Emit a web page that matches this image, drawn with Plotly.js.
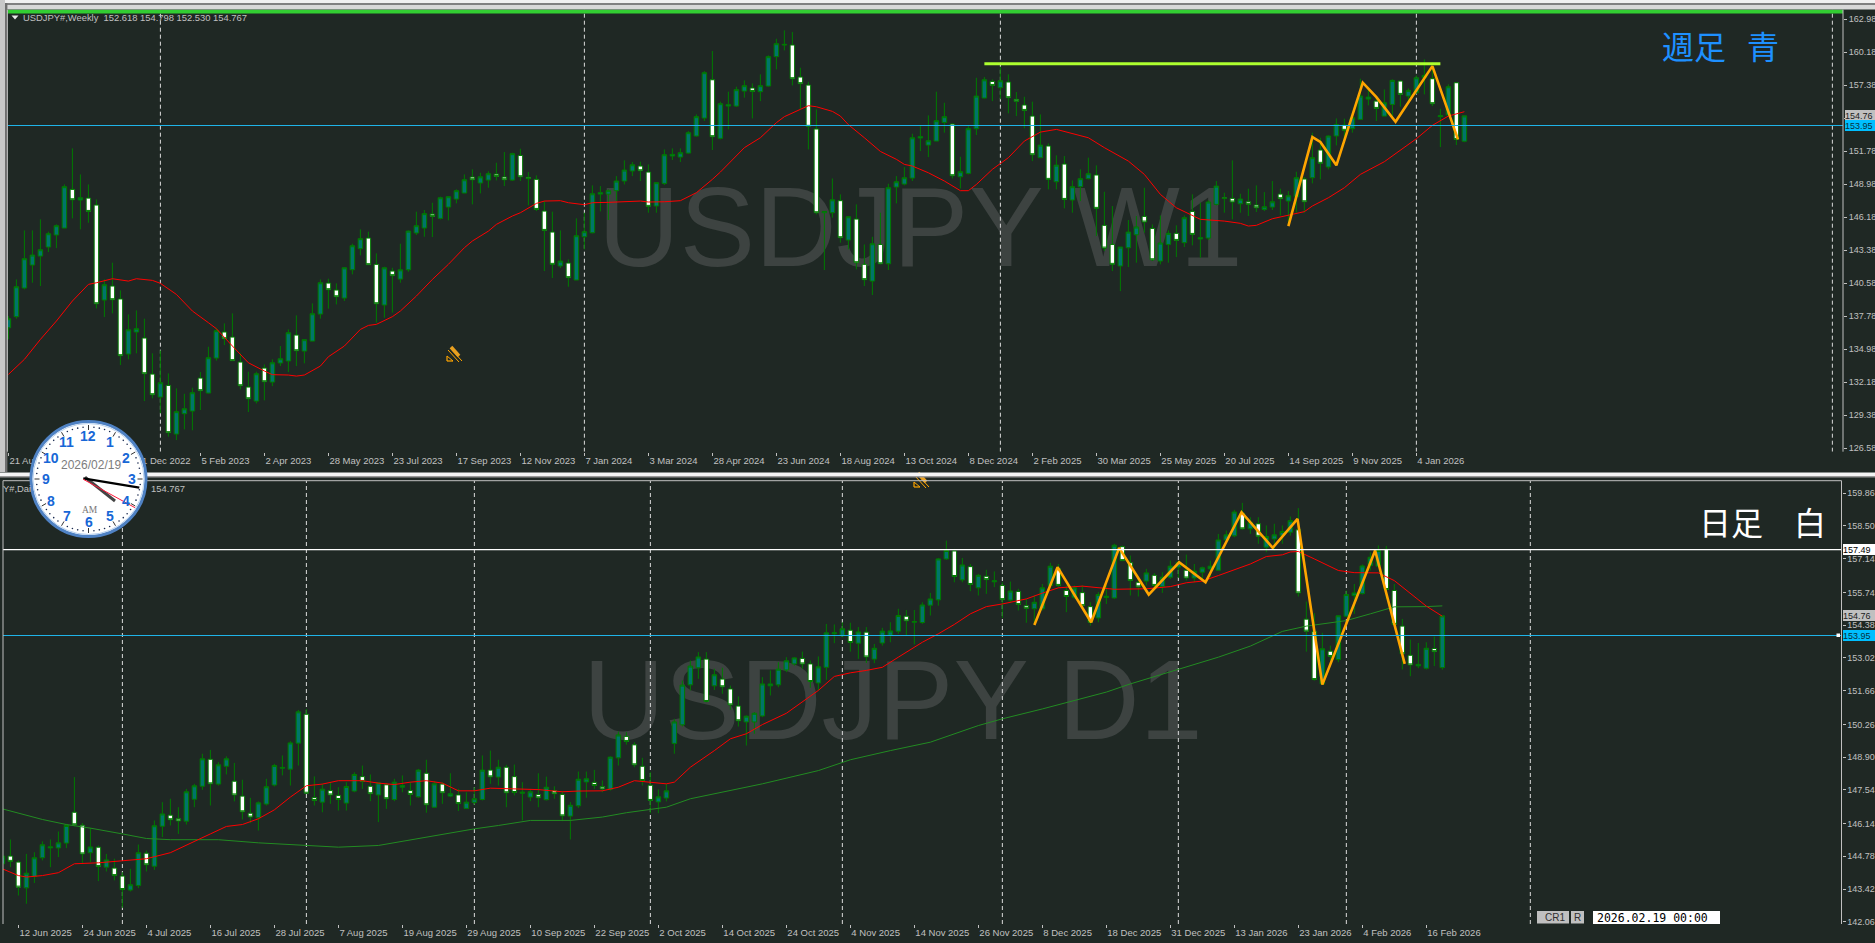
<!DOCTYPE html>
<html><head><meta charset="utf-8">
<script src="https://cdn.plot.ly/plotly-3.0.1.min.js"></script>
<style>html,body{margin:0;padding:0;background:#1f2824;overflow:hidden}#c{width:1875px;height:943px}</style>
</head><body><div id="c"></div>
<script>
// ---------- WEEKLY DATA ----------
const wHigh=[137.78,140.89,145.05,145.05,145.99,144.94,145.56,148.95,152.01,149.80,
148.95,147.68,140.89,142.31,139.96,137.92,138.26,137.56,134.62,134.87,
132.92,131.65,131.19,131.70,133.03,135.18,136.79,137.16,138.01,134.62,
133.06,133.06,133.68,134.11,135.24,136.65,137.84,135.80,138.86,140.89,
140.95,140.56,141.94,143.92,145.14,144.94,143.10,141.97,141.88,143.92,
145.05,146.64,146.78,147.40,147.91,147.96,148.53,149.80,150.23,149.94,
150.06,150.79,151.70,151.64,151.98,150.00,149.72,147.54,146.64,145.05,
142.59,146.07,146.55,148.87,148.81,148.53,149.66,150.99,150.85,150.88,
150.65,149.10,151.92,152.01,152.01,153.48,154.89,158.57,160.27,155.97,
156.82,157.24,157.78,157.52,158.29,159.90,161.31,162.02,161.88,158.85,
157.66,155.32,146.69,149.46,148.11,146.27,147.26,143.86,144.51,146.55,
149.01,149.66,150.42,153.25,153.96,154.81,156.82,155.88,154.13,151.30,
153.90,158.00,158.06,157.86,158.91,158.29,156.79,156.39,155.97,154.89,
152.43,151.42,151.36,149.29,150.23,151.22,150.57,148.33,147.12,143.64,
145.93,146.27,148.67,145.56,146.32,145.05,145.48,146.32,148.11,147.40,
147.60,149.24,148.25,150.99,148.16,148.59,148.87,148.30,149.24,148.59,
148.39,150.03,149.58,153.34,152.91,153.11,154.55,154.53,155.03,157.92,
157.24,156.45,157.01,157.86,157.78,157.10,158.20,159.56,159.33,155.37,
157.44,157.64,154.798];
const wBodyTop=[137.56,140.27,142.65,142.96,143.41,144.77,145.45,148.76,148.53,147.82,
147.79,147.20,140.44,140.33,139.23,136.62,136.71,135.92,132.86,132.13,
131.90,129.67,129.92,131.28,132.52,134.25,136.54,136.43,136.00,133.88,
131.76,132.89,133.37,133.82,134.16,136.37,136.17,135.78,137.98,140.61,
140.58,139.99,141.88,143.75,144.35,144.40,142.17,141.88,141.60,141.71,
144.99,145.45,146.47,146.44,147.82,147.91,148.42,149.35,149.58,149.60,
149.86,149.83,149.58,151.56,151.41,149.55,149.38,146.69,144.91,142.45,
142.28,144.60,144.94,148.16,148.25,148.42,149.24,150.17,150.62,150.51,
150.00,149.10,151.47,151.50,151.64,153.34,154.70,158.43,157.83,155.80,
155.71,156.99,157.33,157.13,157.33,159.79,160.89,160.83,160.78,158.06,
157.38,153.65,146.66,147.65,147.57,146.21,146.01,142.17,143.92,143.86,
148.67,149.18,149.52,152.91,153.00,152.66,154.36,154.70,154.07,150.03,
153.68,156.45,157.83,157.69,157.75,157.64,156.17,155.69,154.75,152.29,
152.21,150.59,150.68,148.76,149.44,149.86,149.75,145.48,143.86,143.64,
144.91,145.34,146.24,145.22,143.98,144.80,144.80,146.13,146.66,144.43,
147.46,148.81,147.82,147.77,147.71,147.48,147.20,147.06,147.48,148.13,
147.99,149.52,149.41,151.22,151.87,153.06,154.04,153.99,154.61,156.45,
156.36,156.02,155.88,157.78,157.72,156.93,158.00,158.20,157.92,154.78,
157.24,157.58,154.767];
const wBodyBot=[136.79,137.73,140.16,142.11,142.87,143.64,144.66,145.25,147.65,147.63,
146.66,138.83,139.14,139.17,134.42,134.56,136.43,132.89,131.11,130.91,
127.89,127.77,129.50,129.72,131.45,131.25,134.22,135.86,134.00,131.87,
130.77,130.57,132.21,132.18,133.80,133.97,134.84,134.81,135.66,137.95,
140.02,139.42,139.31,141.71,143.50,142.14,138.83,138.72,141.21,140.92,
141.71,144.83,145.25,146.24,146.07,147.03,147.71,148.22,149.35,149.07,
149.32,149.63,149.35,149.32,149.60,149.44,146.83,145.05,142.17,142.03,
141.04,140.84,144.51,144.85,148.13,148.13,148.42,149.24,150.09,150.11,
147.09,147.12,149.04,151.36,151.27,151.61,153.06,154.58,153.00,152.86,
155.60,155.60,156.87,156.84,156.82,157.30,159.79,160.78,157.92,157.50,
153.88,146.55,146.55,146.55,144.43,144.23,142.31,140.87,140.75,142.22,
142.22,148.73,148.98,149.49,152.89,152.29,152.63,154.21,149.69,149.60,
149.89,153.68,156.28,157.35,157.16,156.31,156.00,155.23,151.47,151.22,
149.38,149.18,147.68,147.63,148.76,149.44,146.92,143.55,142.17,142.03,
143.58,144.68,145.76,142.56,142.45,143.86,144.20,144.01,144.71,144.32,
144.40,147.26,147.77,147.46,147.31,147.26,146.97,146.83,147.03,147.74,
147.54,147.91,147.48,149.52,150.74,150.43,153.06,153.54,153.68,154.47,
156.19,155.40,154.75,155.74,156.59,156.45,156.73,158.03,155.80,154.70,
154.84,152.77,152.618];
const wLow=[135.81,137.56,140.05,140.61,140.33,143.21,143.55,145.25,146.07,145.14,
145.70,138.43,137.70,138.01,133.63,134.11,134.62,130.57,130.80,129.53,
127.55,127.26,128.17,128.09,129.81,131.22,134.00,135.32,133.97,131.56,
129.64,130.37,130.63,131.84,133.54,133.03,133.54,133.77,135.66,137.56,
138.41,138.77,139.06,141.32,142.93,142.14,137.22,137.64,138.07,140.61,
141.54,144.66,144.51,144.49,145.98,145.90,147.34,148.22,147.26,148.19,
148.67,149.29,148.81,149.24,149.24,147.17,146.69,141.60,141.01,141.86,
140.27,140.84,143.44,144.80,146.66,145.93,147.54,148.95,149.66,149.24,
146.55,146.55,148.90,151.02,150.85,151.56,153.00,154.33,151.87,152.77,
153.62,155.52,156.31,154.55,156.02,157.24,158.71,160.32,157.35,155.32,
151.92,146.41,141.69,146.13,144.01,143.44,141.74,140.33,139.57,142.17,
141.69,147.34,148.87,149.24,151.78,151.27,152.63,153.34,149.46,148.61,
149.80,153.14,156.25,156.02,156.17,154.98,154.75,153.71,150.93,151.19,
148.53,148.53,146.92,146.55,147.54,149.38,144.57,143.30,141.60,139.90,
141.94,142.31,144.85,142.45,142.17,142.31,142.79,143.64,143.78,142.73,
144.23,147.17,146.55,145.99,146.55,146.27,146.61,146.69,146.78,146.32,
145.56,146.55,146.55,149.04,149.38,150.23,152.26,152.77,153.34,154.41,
155.66,154.33,154.75,154.61,155.54,155.88,156.65,156.59,155.60,152.12,
154.75,152.29,152.530];
const wBull="1111111101 0010011001 0111011000 0101110111 0011100101 1110111101 1001000001 0111111110 0111111101 1110111100 0011010010 1111111101 1110100001 0101110001 1100110101 1100100110 1101011011 1011011101 101";
const wMaBar=[0,2,4,6,8,10,11,13,15,16,18,19,21,23,25,26,28,30,32,33,35,36,37,39,40,42,44,45,46,48,49,51,53,55,57,58,60,61,63,64,66,67,69,70,72,73,75,77,79,80,82,84,86,88,89,92,94,96,97,99,100,101,103,104,105,107,109,111,112,113,115,117,119,120,121,123,125,127,129,131,133,135,137,140,142,144,146,149,152,154,155,156,158,160,162,163,165,167,169,172,174,176,178,180,182];
const wMaVal=[132.83,134.11,135.80,137.36,139.06,140.47,140.61,140.95,140.75,140.95,140.81,140.56,139.62,138.21,137.22,136.71,135.24,133.82,133.12,132.81,132.78,132.69,132.78,133.54,134.33,135.24,136.65,136.99,137.08,137.73,138.21,139.48,140.89,142.17,143.58,144.15,144.99,145.56,146.27,146.55,147.34,147.54,147.57,147.40,147.23,147.40,147.43,147.51,147.54,147.46,147.48,147.57,148.25,149.38,150.00,152.07,152.91,154.19,154.70,155.32,155.63,155.54,155.15,154.75,154.02,152.91,151.75,151.08,150.65,150.51,149.94,149.24,148.42,148.42,148.95,150.23,151.22,152.63,153.39,153.62,153.28,152.91,152.07,150.93,149.80,148.11,146.97,145.99,145.84,145.65,145.42,145.48,146.04,146.32,146.64,147.12,147.82,148.67,149.80,150.88,151.87,152.83,153.96,154.75,155.12];
const wZigBar=[160,163,164,166,169.3,171,173.4,178,181.2];
const wZigVal=[145.42,152.97,152.55,150.57,157.58,156.36,154.27,158.99,152.77];
const wResBar=[122,179];
const wResVal=[159.19,159.19];
const wSeparators=[19,72,124,176,228];
const wTickText=["21 Aug 2022","","11 Dec 2022","5 Feb 2023","2 Apr 2023","28 May 2023","23 Jul 2023","17 Sep 2023","12 Nov 2023","7 Jan 2024","3 Mar 2024","28 Apr 2024","23 Jun 2024","18 Aug 2024","13 Oct 2024","8 Dec 2024","2 Feb 2025","30 Mar 2025","25 May 2025","20 Jul 2025","14 Sep 2025","9 Nov 2025","4 Jan 2026"];
const wPriceTicks=[162.98,160.18,157.38,154.58,151.78,148.98,146.18,143.38,140.58,137.78,134.98,132.18,129.38,126.58];
const wPriceLabels=["162.98","160.18","157.38","","151.78","148.98","146.18","143.38","140.58","137.78","134.98","132.18","129.38","126.58"];

// ---------- DAILY DATA ----------
const dHigh=[144.88,145.48,144.61,144.88,144.95,145.40,145.48,145.81,146.13,148.07,
146.16,145.96,145.23,144.88,144.68,144.12,144.26,145.27,145.02,146.27,
147.03,147.17,146.82,147.58,147.79,149.04,149.20,148.69,148.93,148.66,
147.96,147.21,147.06,148.00,148.62,148.97,149.56,150.86,150.90,148.10,
147.79,147.86,147.65,147.86,148.27,148.55,148.18,147.86,147.83,148.00,
148.14,147.86,148.41,148.79,147.90,147.86,148.23,147.58,147.44,147.65,
148.97,149.17,148.79,148.58,148.59,147.86,147.58,148.23,148.09,147.69,
147.49,147.03,148.30,148.30,148.37,147.93,148.93,149.96,149.94,149.52,
148.87,148.27,147.56,147.79,150.49,152.08,152.91,153.26,153.26,152.57,
152.61,151.87,151.42,150.63,150.77,152.22,152.50,152.84,153.05,153.05,
153.28,152.91,153.08,154.43,154.41,154.50,154.48,154.30,154.30,153.60,
154.27,154.50,155.06,155.01,155.01,155.33,155.72,157.17,157.89,157.55,
157.17,156.92,156.51,156.68,156.61,156.16,156.19,155.89,155.47,155.61,
156.09,156.97,156.92,156.03,156.03,156.03,155.33,155.75,156.03,157.76,
157.69,157.27,156.37,156.72,156.54,156.58,157.06,157.06,157.31,156.92,
156.81,157.06,158.17,158.31,159.17,159.46,158.86,158.86,158.52,158.59,
158.52,158.89,159.24,155.36,154.88,154.06,153.53,154.78,155.82,156.09,
156.90,157.41,157.69,157.67,156.09,154.64,153.78,153.64,153.67,153.91,
154.798];
const dBodyTop=[144.79,144.79,144.54,144.08,144.72,145.26,145.17,145.34,146.06,146.61,
146.07,145.17,145.16,144.63,144.29,143.96,143.60,144.93,144.91,146.05,
146.54,146.49,146.34,147.46,147.71,148.83,148.81,148.58,148.83,147.90,
147.28,146.57,147.00,147.67,148.55,148.47,149.49,150.78,150.68,147.22,
147.57,147.51,147.31,147.68,148.18,148.09,147.69,147.83,147.75,147.86,
147.72,147.51,148.36,148.23,147.79,147.78,147.38,147.33,147.03,147.17,
148.36,148.36,148.48,148.48,148.09,147.44,147.46,147.35,147.65,147.51,
147.35,146.90,147.98,148.00,147.85,147.68,148.90,149.82,149.76,149.41,
148.52,147.73,147.25,147.50,150.36,151.89,152.68,153.06,152.97,152.32,
152.14,151.73,151.02,150.60,150.72,151.94,151.94,152.55,152.90,153.02,
153.00,152.77,152.65,154.06,154.06,154.23,154.17,154.10,154.09,153.42,
154.13,154.14,154.78,154.75,154.53,155.22,155.47,157.13,157.48,157.46,
156.88,156.81,156.45,156.41,156.22,156.03,155.80,155.78,155.19,155.33,
155.93,156.83,156.72,155.82,155.93,155.73,155.15,155.65,155.58,157.70,
157.64,156.97,156.16,156.55,156.45,156.37,156.83,156.99,156.66,156.62,
156.76,156.83,157.92,158.13,159.08,159.03,158.65,158.59,158.06,158.13,
158.27,158.72,158.34,154.63,154.12,153.40,153.30,154.77,155.65,155.72,
156.84,157.20,157.48,157.53,155.82,154.34,153.13,152.75,153.42,153.41,
154.767];
const dBodyBot=[144.47,144.57,143.50,143.47,143.94,144.72,145.13,145.13,145.33,146.09,
144.88,144.93,144.36,144.33,143.98,143.40,143.38,143.57,144.43,144.37,
146.03,146.30,146.25,146.24,147.15,147.69,147.79,147.78,148.52,147.33,
146.63,146.41,146.38,146.95,147.74,148.44,148.40,149.48,147.40,147.10,
147.03,147.33,147.14,146.99,147.49,147.89,147.38,147.33,147.17,147.14,
147.65,147.35,147.25,146.92,146.82,147.42,147.28,146.97,146.77,147.02,
147.14,148.08,148.07,147.42,147.43,147.40,147.24,147.21,147.13,147.38,
146.46,146.45,146.88,147.87,147.72,147.58,147.56,148.87,149.55,148.58,
147.93,147.10,147.04,147.20,149.47,150.24,151.90,152.61,151.21,151.86,
151.82,151.07,150.41,150.36,150.36,150.61,151.86,151.90,152.52,152.77,
152.77,152.04,151.98,152.63,154.02,153.94,153.66,153.63,153.06,152.97,
153.64,153.96,154.13,154.56,154.50,154.49,155.21,155.43,157.13,156.40,
156.26,156.07,155.93,156.27,156.18,155.44,155.42,155.24,155.08,155.06,
155.06,156.03,156.03,155.57,155.54,155.19,154.50,154.68,155.53,155.51,
157.06,156.23,155.97,156.21,156.03,155.98,156.37,156.79,156.34,156.34,
156.58,156.72,156.66,157.92,158.09,158.38,158.38,158.07,157.62,157.96,
158.10,158.24,155.72,154.13,152.12,151.94,153.08,152.95,154.75,155.61,
155.69,156.86,156.83,155.86,154.41,153.19,152.73,152.69,152.59,153.28,
152.618];
const dLow=[144.33,144.33,143.15,142.81,143.67,144.61,144.33,144.75,145.12,146.02,
144.47,144.54,143.75,144.15,143.78,142.64,143.32,143.46,144.15,144.22,
145.58,146.06,145.71,146.10,146.82,147.54,146.89,147.72,148.18,147.06,
146.31,146.16,145.85,146.89,147.68,148.14,147.72,148.55,147.38,146.89,
146.61,146.96,146.68,146.68,147.44,147.58,147.07,146.20,146.75,147.07,
147.44,146.89,147.21,146.59,146.79,146.96,147.24,146.66,146.75,146.92,
147.10,147.79,147.72,146.82,147.31,146.27,147.07,146.82,147.10,147.17,
146.24,145.48,146.79,147.21,147.58,147.44,147.51,148.55,149.42,148.48,
147.72,146.57,146.57,147.06,149.04,150.17,151.67,152.15,151.18,151.69,
151.53,150.86,150.17,149.38,149.87,150.56,151.46,151.80,152.43,152.70,
152.57,151.78,151.67,152.11,153.63,153.88,153.28,152.98,152.81,152.80,
153.53,153.67,154.02,153.95,153.58,154.43,154.78,155.19,157.09,156.16,
156.16,155.79,155.61,155.68,155.96,154.68,155.33,154.99,154.48,154.43,
154.99,155.96,155.96,154.92,155.47,155.13,154.36,154.50,155.26,155.47,
157.04,155.61,155.57,156.03,155.96,155.72,156.30,156.34,156.23,156.16,
156.23,156.37,156.65,157.82,158.03,158.34,158.17,157.76,157.41,157.48,
157.76,158.10,155.57,153.28,152.08,151.94,152.91,152.84,154.71,154.85,
155.65,156.65,156.79,155.47,154.36,152.54,152.26,152.59,152.54,152.68,
152.530];
const dBull="1001111110 0101001101 1001110110 0011111100 1001100101 1010101011 1010011010 0111001100 0011111101 0001111111 0011110101 1110111110 1010101001 1100100111 0001011101 1111101011 1100010111 1110000110 1";
const dRedBar=[0,2,3,5,7,9,12,15,18,21,23,26,28,30,32,34,36,38,40,42,45,47,49,51,53,55,57,59,61,64,67,70,72,75,77,79,81,83,84,86,89,91,93,95,98,100,102,104,106,108,110,112,115,117,119,121,123,125,128,130,132,135,137,139,143,146,148,150,152,154,156,158,160,161,162,164,167,169,172,174,176,178,180];
const dRedVal=[144.26,143.98,143.92,143.98,144.10,144.47,144.51,144.61,144.68,144.93,145.23,145.71,146.02,146.10,146.34,146.71,147.24,147.71,147.78,147.92,147.92,147.82,147.76,147.86,147.92,147.82,147.50,147.50,147.61,147.57,147.55,147.46,147.49,147.50,147.65,147.92,147.86,147.79,147.86,148.48,149.17,149.66,149.87,150.25,150.72,151.18,151.67,152.25,152.40,152.50,152.63,153.05,153.67,154.02,154.41,154.85,155.15,155.26,155.47,155.71,155.93,156.00,155.93,155.87,155.89,155.98,156.14,156.21,156.44,156.69,156.92,157.23,157.30,157.42,157.44,157.13,156.65,156.56,156.55,156.23,155.68,155.17,154.75];
const dGreenBar=[0,5,8,11,15,18,21,27,32,38,42,47,52,55,59,62,66,71,75,78,83,86,91,95,102,106,111,116,122,125,130,135,138,141,147,152,156,160,163,166,168,171,174,178,180];
const dGreenVal=[146.75,146.31,146.10,145.95,145.71,145.52,145.47,145.47,145.34,145.24,145.16,145.23,145.53,145.69,145.92,146.06,146.27,146.27,146.41,146.59,146.82,147.17,147.51,147.79,148.34,148.79,149.17,149.52,150.21,150.49,150.90,151.35,151.60,151.94,152.54,153.05,153.51,154.12,154.34,154.48,154.57,154.85,155.14,155.15,155.18];
const dZigBar=[129,131.9,136.1,139.6,143.3,147.1,150.4,154.9,158.8,161.9,165,171.6,175.3];
const dZigVal=[154.39,156.79,154.50,157.59,155.65,156.99,156.16,159.07,157.59,158.79,151.91,157.48,152.77];
const dSeparators=[15,38,59,81,105,125,147,168,191];
const dTickText=["12 Jun 2025","24 Jun 2025","4 Jul 2025","16 Jul 2025","28 Jul 2025","7 Aug 2025","19 Aug 2025","29 Aug 2025","10 Sep 2025","22 Sep 2025","2 Oct 2025","14 Oct 2025","24 Oct 2025","4 Nov 2025","14 Nov 2025","26 Nov 2025","8 Dec 2025","18 Dec 2025","31 Dec 2025","13 Jan 2026","23 Jan 2026","4 Feb 2026","16 Feb 2026"];
const dPriceTicks=[159.86,158.50,157.14,155.74,154.38,153.02,151.66,150.26,148.90,147.54,146.14,144.78,143.42,142.06];

const bidLevel=153.95, closeLevel=154.767, dailyLevel=157.52;

// ---------- STYLE ----------
const BG="#1f2824", SILVER="#c0c0c0", SANS="'Liberation Sans',Arial,sans-serif";
const W=1875,H=943;
const px=x=>x/W, py=y=>1-y/H;
const wYR=[126.275,163.775], dYR=[141.969,160.379];
const wXR=[-0.1,229.33], dXR=[0.075,229.9];

function candle(hi,lo,top,bot,bull,xa,ya){
  const f=bull.replace(/ /g,"").split("");
  const idx=hi.map((_,i)=>i);
  return {type:"candlestick",x:idx,high:hi,low:lo,
    open:idx.map(i=>f[i]==="1"?bot[i]:top[i]),
    close:idx.map(i=>f[i]==="1"?top[i]:bot[i]),
    xaxis:xa,yaxis:ya,whiskerwidth:0,zorder:1,hoverinfo:"skip",
    increasing:{line:{color:"#007a00",width:1},fillcolor:"#00756a"},
    decreasing:{line:{color:"#007a00",width:1},fillcolor:"#ffffff"}};
}
function line(x,y,color,width,xa,ya,extra){
  return Object.assign({type:"scatter",mode:"lines",x,y,xaxis:xa,yaxis:ya,zorder:2,hoverinfo:"skip",
    line:{color,width,shape:"linear"}},extra||{});
}
function seps(list,yr,xa,ya){
  const x=[],y=[];
  list.forEach(v=>{x.push(v,v,null);y.push(yr[0],yr[1],null);});
  return {type:"scatter",mode:"lines",x,y,xaxis:xa,yaxis:ya,zorder:0,hoverinfo:"skip",
    line:{color:"#dcdcdc",width:1,dash:"4px,3px"}};
}
function mark(text,x,y,xa,ya){
  return {type:"scatter",mode:"text",x:[x],y:[y],text:[text],xaxis:xa,yaxis:ya,zorder:-1,hoverinfo:"skip",
    textposition:"middle center",textfont:{family:SANS,size:113,color:"#3d4341"}};
}

const data=[
  mark("USDJPY W1",114,144.45,"x","y"),
  seps(wSeparators,wYR,"x","y"),
  candle(wHigh,wLow,wBodyTop,wBodyBot,wBull,"x","y"),
  line(wMaBar,wMaVal,"#ff0000",1,"x","y"),
  line(wResBar,wResVal,"#adff2f",3,"x","y"),
  line(wZigBar,wZigVal,"#ffa500",2.6,"x","y"),
  mark("USDJPY D1",111.3,150.83,"x2","y2"),
  seps(dSeparators,dYR,"x2","y2"),
  candle(dHigh,dLow,dBodyTop,dBodyBot,dBull,"x2","y2"),
  line(dGreenBar,dGreenVal,"#228b22",1,"x2","y2"),
  line(dRedBar,dRedVal,"#ff0000",1,"x2","y2"),
  line(dZigBar,dZigVal,"#ffa500",2.6,"x2","y2")
];

// ---------- SHAPES ----------
const shapes=[];
function rect(x0,y0,x1,y1,fill,layer){shapes.push({type:"rect",xref:"paper",yref:"paper",x0:px(x0),x1:px(x1),y0:py(y1),y1:py(y0),fillcolor:fill,line:{width:0},layer:layer||"above"});}
function seg(x0,y0,x1,y1,color,width){shapes.push({type:"line",xref:"paper",yref:"paper",x0:px(x0),x1:px(x1),y0:py(y0),y1:py(y1),line:{color,width},layer:"above"});}
function circle(cx,cy,r,fill,color,width){shapes.push({type:"circle",xref:"paper",yref:"paper",x0:px(cx-r),x1:px(cx+r),y0:py(cy+r),y1:py(cy-r),fillcolor:fill,line:{color,width},layer:"above"});}
function hline(level,xa,ya,color,width){shapes.push({type:"line",xref:xa+" domain",x0:0,x1:1,yref:ya,y0:level,y1:level,line:{color,width},layer:"above"});}

hline(bidLevel,"x","y","#1fb4e8",1);
rect(7.6,9.8,1843,13.5,"#32cd32");
hline(dailyLevel,"x2","y2","#ffffff",1.2);
hline(bidLevel,"x2","y2","#1fb4e8",1);

// small orange pen icons
function pen(dx,dy){
  seg(450+dx,348+dy,462+dx,361+dy,"#ffa500",1);
  seg(448+dx,350+dy,459+dx,362+dy,"#ffa500",1);
  seg(451+dx,347+dy,459+dx,356+dy,"#e8a020",3.5);
  seg(447+dx,361+dy,453+dx,361+dy,"#ffa500",1.2);
  seg(447+dx,356+dy,447+dx,361+dy,"#ffa500",1.2);
  seg(447+dx,356+dy,453+dx,361+dy,"#ffa500",1);
}
pen(0,0); pen(467,126);

// window chrome
rect(0,0,W,3,"#f0f0f0");
rect(0,3,W,5,"#808080");
rect(0,5,W,9.5,"#d8d8d8");
rect(0,0,5,472,"#c8c8c8");
rect(5,3,7.4,472,"#6e6e6e");
seg(7.4,9.7,7.4,451.7,SILVER,1);
rect(0,472.5,W,476,"#f4f4f4");
rect(0,476,W,477.5,"#9a9a9a");
seg(3,480.7,1841.5,480.7,SILVER,1);
seg(3,480.7,3,924,SILVER,1);
seg(1841.5,480.7,1841.5,924,SILVER,1);
seg(1843,9.7,1843,451.7,SILVER,1);
rect(1836.5,633.5,1840,637,"#ffffff");

// CR1 / R / date boxes
rect(1537,911,1569,923.5,"#c0c0c0");
rect(1571,911,1584,923.5,"#c0c0c0");
rect(1593,911,1720,924,"#ffffff");

// clock
const CX=88.5,CY=479,R=57.5;
circle(CX,CY,R,"#ffffff","#4f82c4",3);
circle(CX,CY,R-2,"rgba(0,0,0,0)","#b9d2ef",1);
for(let i=0;i<60;i++){
  const a=i*Math.PI/30, s=Math.sin(a), c=-Math.cos(a);
  if(i%5===0){seg(CX+s*49,CY+c*49,CX+s*54,CY+c*54,"#333333",1);}
  else{circle(CX+s*52,CY+c*52,0.8,"#1a2a50","#1a2a50",0);}
}
seg(85,477.3,115,501,"#444444",3);
seg(83.3,478.3,139.3,487.7,"#000000",2.2);
seg(83.3,479.3,135,507.7,"#ff1a3c",1);

// ---------- ANNOTATIONS ----------
const ann=[];
function txt(text,x,y,size,color,family,extra){
  ann.push(Object.assign({xref:"paper",yref:"paper",x:px(x),y:py(y),xanchor:"left",yanchor:"middle",
    text,showarrow:false,font:{family:family||SANS,size,color},borderpad:0,borderwidth:0},extra||{}));
}
function tag(text,yVal,ya,x,bg,fg){
  ann.push({xref:"paper",yref:ya,x:px(x),y:yVal,xanchor:"left",yanchor:"middle",text,showarrow:false,width:W-x,height:11,
    font:{family:SANS,size:9,color:fg},bgcolor:bg,borderpad:0,borderwidth:0,align:"left"});
}
txt("USDJPY#,Weekly&nbsp;&nbsp;152.618 154.798 152.530 154.767",23,17.5,9.4,SILVER);
shapes.push({type:"path",xref:"paper",yref:"paper",path:`M ${px(11.5)} ${py(15.5)} L ${px(18.5)} ${py(15.5)} L ${px(15)} ${py(19.5)} Z`,fillcolor:"#e8e8e8",line:{width:0},layer:"above"});
txt("Y#,Dai",3,488.5,9.4,SILVER);
txt("154.767",151,488.5,9.4,SILVER);
const CJK="'Noto Sans CJK JP',sans-serif";
txt("週足",1662,45,32,"#1e90ff",CJK);
txt("青",1747,45,32,"#1e90ff",CJK);
txt("日足",1699,521,32,"#ffffff",CJK);
txt("白",1794,521,32,"#ffffff",CJK);
tag("154.76",closeLevel,"y",1845,"#c0c0c0","#202020");
tag("153.95",bidLevel,"y",1845,"#00bfff","#08303c");
tag("157.49",dailyLevel,"y2",1843,"#ffffff","#000000");
tag("154.76",closeLevel,"y2",1843,"#c0c0c0","#202020");
tag("153.95",bidLevel,"y2",1843,"#00bfff","#08303c");
txt("CR1",1545,917.5,10,"#303030");
txt("R",1574,917.5,10,"#303030");
txt("2026.02.19 00:00",1597,917.5,11.5,"#000000","'DejaVu Sans Mono',monospace");
// clock texts
for(let h=1;h<=12;h++){
  const a=h*Math.PI/6;
  ann.push({xref:"paper",yref:"paper",x:px(CX+43*Math.sin(a)),y:py(CY-43*Math.cos(a)),xanchor:"center",yanchor:"middle",text:"<b>"+h+"</b>",showarrow:false,
    font:{family:SANS,size:14,color:"#1767d6"},borderpad:0});
}
ann.push({xref:"paper",yref:"paper",x:px(CX+2),y:py(465),xanchor:"center",yanchor:"middle",text:"2026/02/19",showarrow:false,font:{family:SANS,size:12,color:"#7d7d7d"},borderpad:0});
ann.push({xref:"paper",yref:"paper",x:px(CX+1.5),y:py(510),xanchor:"center",yanchor:"middle",text:"AM",showarrow:false,font:{family:"'Liberation Serif',serif",size:9.5,color:"#777777"},borderpad:0});

function xAxis(labels,first,range,domain,anchor){
  return {type:"linear",domain,range,anchor,fixedrange:true,showgrid:false,zeroline:false,
    tickmode:"array",tickvals:labels.map((_,i)=>first+i*8),ticktext:labels,tickangle:0,
    ticklabelposition:"outside right",ticks:"outside",ticklen:3,tickcolor:SILVER,tickwidth:1,
    showline:true,linecolor:SILVER,linewidth:1,
    rangeslider:{visible:false},
    tickfont:{family:SANS,size:9.5,color:SILVER}};
}
function yAxis(ticks,labels,range,domain,anchor){
  return {type:"linear",domain,range,anchor,side:"right",fixedrange:true,showgrid:false,zeroline:false,
    tickmode:"array",tickvals:ticks,ticktext:labels,
    ticks:"outside",ticklen:3,tickcolor:SILVER,tickwidth:1,showline:false,
    tickfont:{family:SANS,size:9,color:SILVER}};
}
const layout={width:W,height:H,margin:{l:0,r:0,t:0,b:0,pad:0},paper_bgcolor:BG,plot_bgcolor:BG,showlegend:false,hovermode:false,boxgap:0.2,
  xaxis:xAxis(wTickText,0,wXR,[px(7.6),px(1843)],"y"),
  yaxis:yAxis(wPriceTicks,wPriceLabels,wYR,[py(451.7),py(9.7)],"x"),
  xaxis2:xAxis(dTickText,2,dXR,[px(3),px(1841.5)],"y2"),
  yaxis2:yAxis(dPriceTicks,dPriceTicks.map(v=>v.toFixed(2)),dYR,[py(924),py(480.7)],"x2"),
  shapes,annotations:ann};
Plotly.newPlot("c",data,layout,{staticPlot:true,displayModeBar:false});
</script></body></html>
